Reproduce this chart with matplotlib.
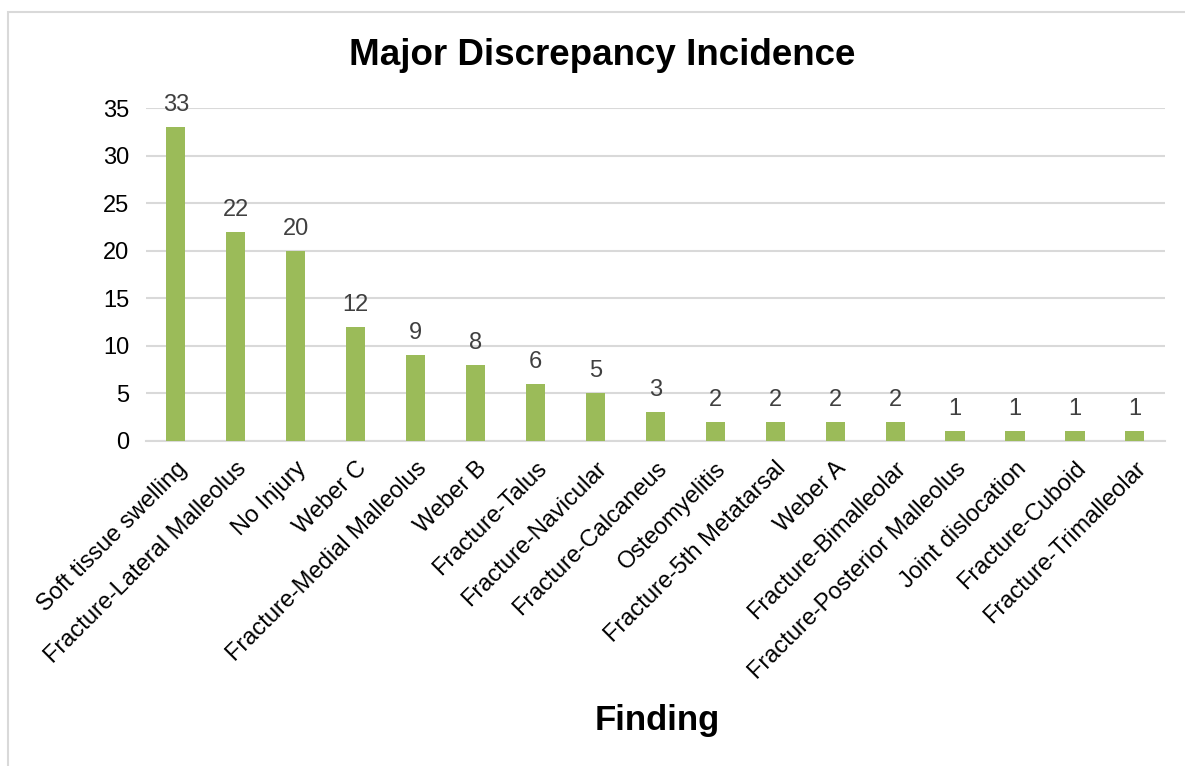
import matplotlib.pyplot as plt
from matplotlib.patches import Rectangle

# data
findings = ["Soft tissue swelling", "Fracture-Lateral Malleolus", "No Injury", "Weber C",
            "Fracture-Medial Malleolus", "Weber B", "Fracture-Talus", "Fracture-Navicular",
            "Fracture-Calcaneus", "Osteomyelitis", "Fracture-5th Metatarsal", "Weber A",
            "Fracture-Bimalleolar", "Fracture-Posterior Malleolus", "Joint dislocation",
            "Fracture-Cuboid", "Fracture-Trimalleolar"]
counts = [33, 22, 20, 12, 9, 8, 6, 5, 3, 2, 2, 2, 2, 1, 1, 1, 1]

plt.rcParams['font.family'] = ['Liberation Sans', 'DejaVu Sans']

fig = plt.figure(figsize=(11.85, 7.66), dpi=100)
ax = fig.add_axes([0.123, 0.4243, 0.86, 0.4347])

x = list(range(len(findings)))
bars = ax.bar(x, counts, width=0.32, color='#9BBB59', zorder=3)

for xi, v in zip(x, counts):
    ax.annotate(str(v), (xi, v), xytext=(0, 8), textcoords='offset points',
                ha='center', va='bottom', fontsize=17, color='#404040')

ax.set_xlim(-0.5, len(findings) - 0.5)
ax.set_ylim(0, 35)
ax.set_yticks(range(0, 36, 5))
ax.tick_params(axis='y', labelsize=17, length=0, pad=12)
ax.tick_params(axis='x', length=0, pad=12)
ax.set_xticks(x)
ax.set_xticklabels(findings, rotation=45, ha='right', rotation_mode='anchor', fontsize=17)
ax.grid(axis='y', color='#d9d9d9', linewidth=1.5, zorder=0)
for s in ['top', 'right', 'left']:
    ax.spines[s].set_visible(False)
ax.spines['bottom'].set_color('#d9d9d9')
ax.spines['bottom'].set_linewidth(1.5)

fig.text(0.508, 0.928, "Major Discrepancy Incidence", ha='center', va='center',
         fontsize=26.5, fontweight='bold')
fig.text(0.555, 0.06, "Finding", ha='center', va='center', fontsize=25, fontweight='bold')

# chart area border
fig.patches.append(Rectangle((8 / 1185, -0.1), 1.2, 1.1 - 12 / 766, transform=fig.transFigure,
                             fill=False, edgecolor='#d9d9d9', linewidth=1.5))

fig.savefig('out.png', dpi=100)
